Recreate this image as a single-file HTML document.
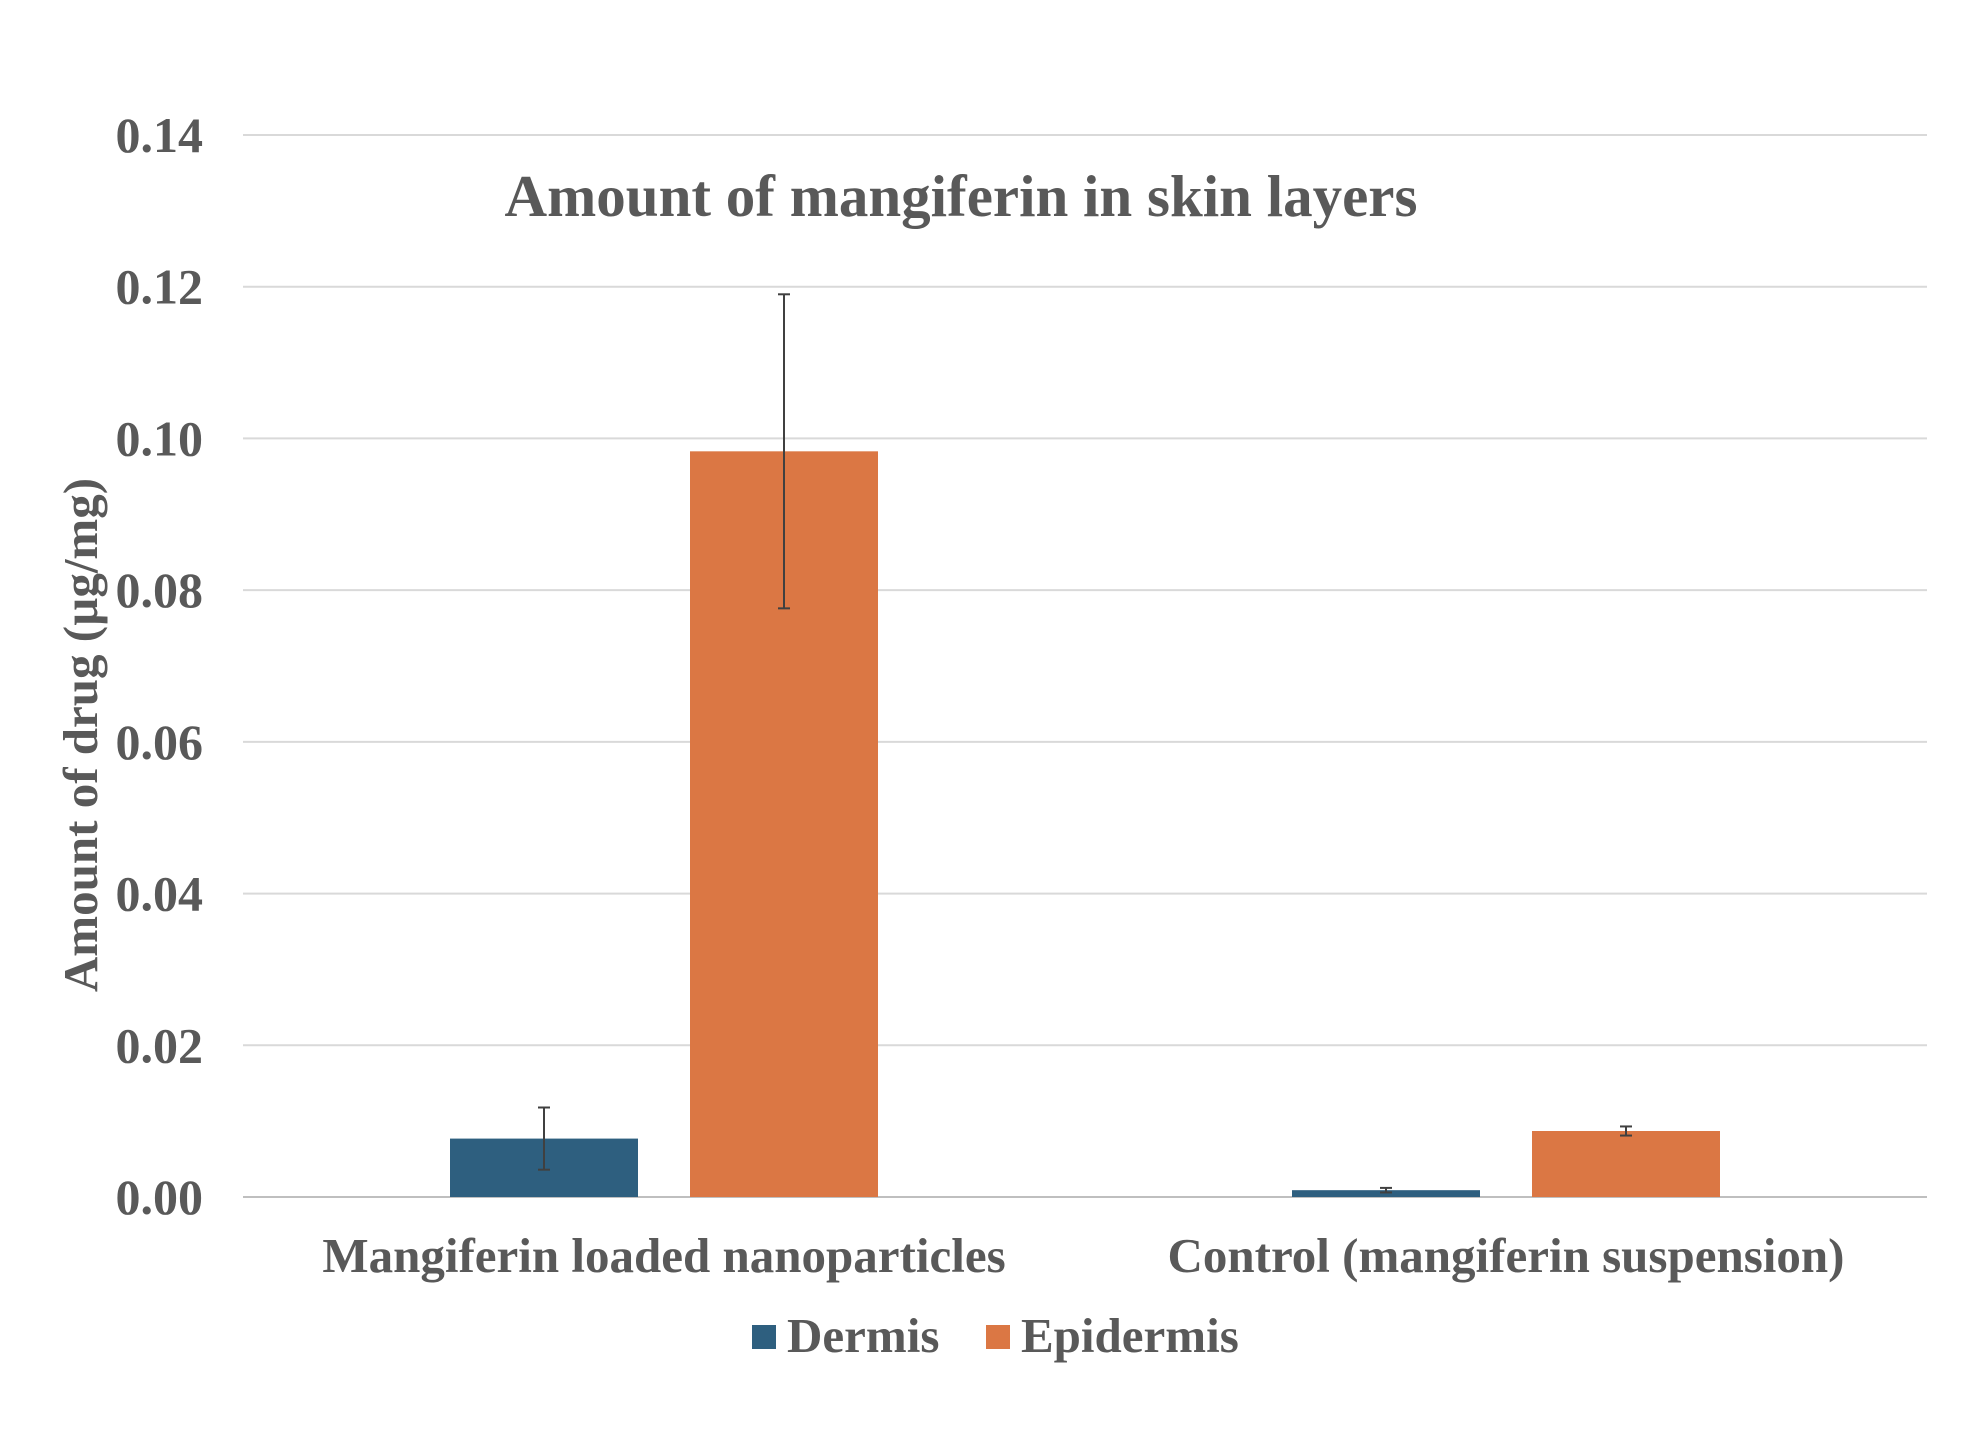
<!DOCTYPE html>
<html><head><meta charset="utf-8"><style>
body{margin:0;background:#fff;}
svg text{font-family:"Liberation Serif",serif;font-weight:bold;fill:#595959;}
</style></head><body>
<svg id="chart" width="1984" height="1438" viewBox="0 0 1984 1438" xmlns="http://www.w3.org/2000/svg">
<rect width="1984" height="1438" fill="#fff"/>
<g id="grid"></g><g id="bars"></g><g id="errs"></g><g id="labels"></g>
<text x="961" y="216" text-anchor="middle" font-size="59">Amount of mangiferin in skin layers</text>
<text transform="translate(97,735) rotate(-90)" text-anchor="middle" font-size="49">Amount of drug (µg/mg)</text>
<g>
<rect x="752" y="1325" width="24" height="24" fill="#2e5f7f"/>
<text x="787" y="1352" font-size="49">Dermis</text>
<rect x="986" y="1325" width="24" height="24" fill="#db7744"/>
<text x="1021" y="1352" font-size="49">Epidermis</text>
</g>
</svg>
<script>
const categories=["Mangiferin loaded nanoparticles","Control (mangiferin suspension)"];
const seriesNames=["Dermis","Epidermis"];
const dermis=[0.0077,0.0009];
const epidermis=[0.0983,0.0087];
const dermisErr=[0.0041,0.0003];
const epidermisErr=[0.0207,0.0006];
const ticks=["0.00","0.02","0.04","0.06","0.08","0.10","0.12","0.14"];
const NS="http://www.w3.org/2000/svg";
const x0=243,x1=1927,yTop=135,yBot=1197,yMax=0.14;
const y=v=>yBot-(v/yMax)*(yBot-yTop);
const groupW=(x1-x0)/categories.length;
const barW=188,gap=52;
function mk(t,a,p){const e=document.createElementNS(NS,t);for(const k in a)e.setAttribute(k,a[k]);p.appendChild(e);return e;}
const G=document.getElementById('grid'),B=document.getElementById('bars'),E=document.getElementById('errs'),L=document.getElementById('labels');
ticks.forEach(t=>{const v=parseFloat(t);
const l=mk('line',{x1:x0,x2:x1,y1:y(v),y2:y(v),stroke:v===0?'#bfbfbf':'#d9d9d9','stroke-width':2},G);


const tx=mk('text',{x:203,y:y(v)+17,'text-anchor':'end','font-size':50},G);tx.textContent=t;

});
const series=[[dermis,dermisErr,'#2e5f7f'],[epidermis,epidermisErr,'#db7744']];
categories.forEach((c,i)=>{const cx=x0+groupW*(i+0.5);
series.forEach((s,j)=>{const v=s[0][i],er=s[1][i];
const bx=cx+(j===0?-(gap/2+barW):gap/2);
const r=mk('rect',{x:bx,y:y(v),width:barW,height:yBot-y(v),fill:s[2]},B);


const mx=bx+barW/2;
const g=mk('g',{stroke:'#404040','stroke-width':2},E);


mk('line',{x1:mx,x2:mx,y1:y(v+er),y2:y(v-er)},g);
mk('line',{x1:mx-6,x2:mx+6,y1:y(v+er),y2:y(v+er)},g);
mk('line',{x1:mx-6,x2:mx+6,y1:y(v-er),y2:y(v-er)},g);});
const t=mk('text',{x:cx,y:1272,'text-anchor':'middle','font-size':49},L);t.textContent=c;

});
</script>
</body></html>
